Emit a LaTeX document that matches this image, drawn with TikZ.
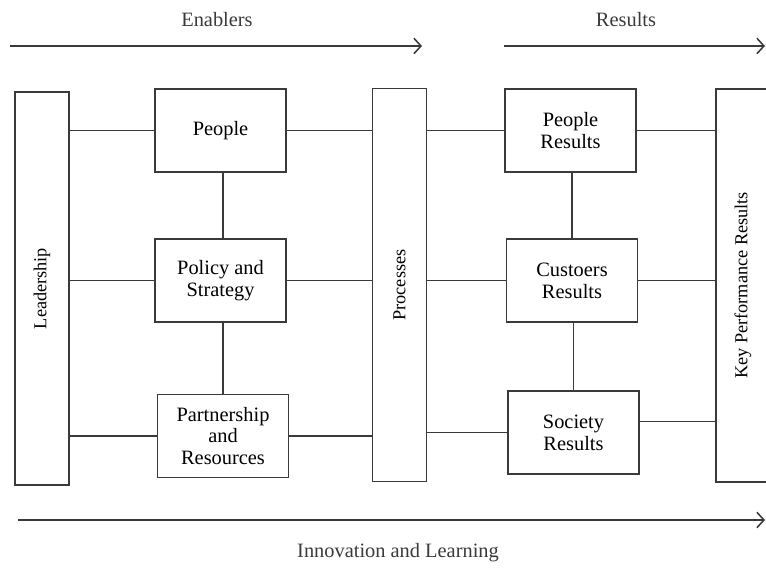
\documentclass[tikz,border=0pt]{standalone}
\usepackage{fontspec}
\setmainfont{Liberation Serif}
\usetikzlibrary{arrows.meta}

\definecolor{ink}{HTML}{3A3A3A}

\tikzset{
    block/.style={draw=ink, line width=1pt, fill=white, align=center,
        minimum width=3.275cm, minimum height=2.075cm, inner sep=2pt,
        font=\fontsize{14.5}{15.5}\selectfont},
    pillar/.style={draw=ink, line width=1pt, fill=white, inner sep=0pt,
        minimum width=1.35cm, minimum height=9.825cm,
        font=\fontsize{13}{15}\selectfont},
    link/.style={draw=ink, line width=1pt},
    flow/.style={draw=ink, line width=1.1pt, -{Straight Barb[length=5pt,width=11pt]}},
    caption/.style={font=\fontsize{14.5}{16}\selectfont, text=ink}
}

\begin{document}
\begin{tikzpicture}[x=0.025cm, y=-0.025cm]
        \useasboundingbox (0,0) rectangle (766,569);

        % pillars
        \node[pillar] (lead) at (42,288.5) {\rotatebox{90}{Leadership}};
        \node[pillar] (proc) at (399.5,285) {\rotatebox{90}{Processes}};
        \node[pillar] (kpr) at (743,285.5) {\rotatebox{90}{Key Performance Results}};

        % enablers
        \node[block] (people) at (220.5,130.5) {People};
        \node[block] (policy) at (220.5,280.5) {Policy and\\Strategy};
        \node[block] (partner) at (223,436) {Partnership\\and\\Resources};

        % results
        \node[block] (pres) at (570.5,130.5) {People\\Results};
        \node[block] (cres) at (572,280.5) {Custoers\\Results};
        \node[block] (sres) at (573.5,432.5) {Society\\Results};

        \draw[link] (people.west) -- (people.west -| lead.east);
        \draw[link] (policy.west) -- (policy.west -| lead.east);
        \draw[link] (partner.west) -- (partner.west -| lead.east);
        \draw[link] (people.east) -- (people.east -| proc.west);
        \draw[link] (policy.east) -- (policy.east -| proc.west);
        \draw[link] (partner.east) -- (partner.east -| proc.west);
        \draw[link] (people.south -| partner) -- (policy.north -| partner);
        \draw[link] (policy.south -| partner) -- (partner.north);

        \draw[link] (pres.west) -- (pres.west -| proc.east);
        \draw[link] (cres.west) -- (cres.west -| proc.east);
        \draw[link] (sres.west) -- (sres.west -| proc.east);
        \draw[link] (pres.east) -- (pres.east -| kpr.west);
        \draw[link] (cres.east) -- (cres.east -| kpr.west);
        \draw[link] ([yshift=0.275cm]sres.east) -- ([yshift=0.275cm]sres.east -| kpr.west);
        \draw[link] (pres.south -| cres) -- (cres.north);
        \draw[link] (cres.south -| sres) -- (sres.north);

        % arrows along the top and bottom
        \coordinate (en0) at (10,46);
        \coordinate (en1) at (422,46);
        \coordinate (re0) at (504,46);
        \coordinate (re1) at (765,46);
        \coordinate (in0) at (18,520);
        \coordinate (in1) at (765,520);
        \draw[flow] (en0) -- (en1);
        \draw[flow] (re0) -- (re1);
        \draw[flow] (in0) -- (in1);

        \node[caption] (enablers) at (217,20) {Enablers};
        \node[caption] (results) at (626,20) {Results};
        \node[caption] (innov) at (398,553) {Innovation and Learning};
\end{tikzpicture}
\end{document}
